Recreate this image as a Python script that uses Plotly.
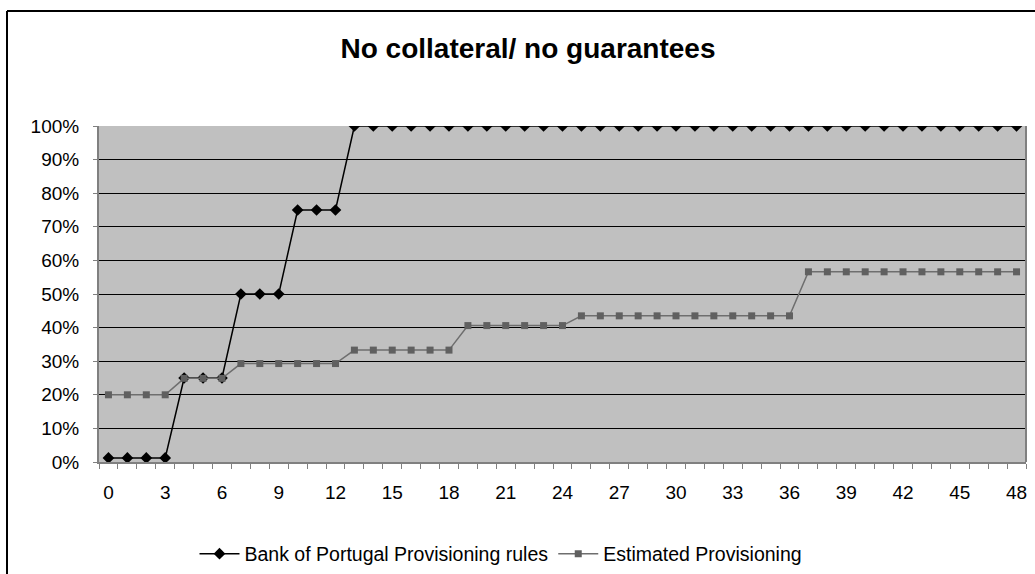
import plotly.graph_objects as go

# Months since default
months = list(range(0, 49))

# Provisioning rates (fraction of exposure)
bank_of_portugal = [0.012] * 4 + [0.25] * 3 + [0.50] * 3 + [0.75] * 3 + [1.00] * 36
estimated = ([0.20] * 4 + [0.249] * 3 + [0.293] * 6 + [0.333] * 6
             + [0.406] * 6 + [0.435] * 12 + [0.566] * 12)

x_tick_vals = list(range(0, 49, 3))
x_tick_text = [str(v) for v in x_tick_vals]

FONT = "Liberation Sans, Arial, sans-serif"

fig = go.Figure()
fig.add_trace(go.Scatter(
    x=months, y=bank_of_portugal, mode="lines+markers",
    name="Bank of Portugal Provisioning rules",
    line=dict(color="#000000", width=1.5),
    marker=dict(symbol="diamond", size=9, color="#000000"),
))
fig.add_trace(go.Scatter(
    x=months, y=estimated, mode="lines+markers",
    name="Estimated Provisioning",
    line=dict(color="#6e6e6e", width=1.5),
    marker=dict(symbol="square", size=7, color="#606060"),
))

fig.update_layout(
    width=1035, height=574,
    margin=dict(l=99, r=9, t=126, b=112, autoexpand=False),
    paper_bgcolor="white",
    plot_bgcolor="#c0c0c0",
    font=dict(family=FONT, size=19, color="#000000"),
    title=dict(text="<b>No collateral/ no guarantees</b>", x=528 / 1035, xanchor="center",
               y=1 - 48 / 574, yanchor="middle", font=dict(size=28, family=FONT)),
    showlegend=True,
    legend=dict(orientation="h", x=(501 - 99) / 927, xanchor="center",
                y=(462 - 554) / 336, yanchor="middle",
                font=dict(size=19.5, family=FONT), bgcolor="rgba(0,0,0,0)",
                itemwidth=40, tracegroupgap=0),
    xaxis=dict(
        range=[-0.5, 48.5], tickmode="array", tickvals=x_tick_vals, ticktext=x_tick_text,
        ticks="", showgrid=False, zeroline=False, automargin=False,
        showline=True, linecolor="#808080", linewidth=2,
        minor=dict(tick0=-0.5, dtick=1, ticks="outside", ticklen=5,
                   tickcolor="#808080", tickwidth=1, showgrid=False),
        ticklabelstandoff=12,
        tickfont=dict(size=19, family=FONT),
    ),
    yaxis=dict(
        range=[0, 1.0], dtick=0.1, tickformat=".0%",
        showgrid=True, gridcolor="#000000", gridwidth=1, zeroline=False, automargin=False,
        showline=True, linecolor="#808080", linewidth=2,
        ticks="outside", ticklen=4, tickcolor="#808080",
        ticklabelstandoff=10,
        tickfont=dict(size=19, family=FONT),
    ),
    shapes=[
        # Right edge of the plotting area
        dict(type="line", xref="paper", yref="paper", x0=1, x1=1, y0=0, y1=1,
             line=dict(color="#808080", width=2)),
        # Chart frame (left and top)
        dict(type="line", xref="paper", yref="paper",
             x0=(7 - 99) / 927, x1=(7 - 99) / 927, y0=(462 - 11) / 336, y1=(462 - 580) / 336,
             line=dict(color="#000000", width=2)),
        dict(type="line", xref="paper", yref="paper",
             x0=(7 - 99) / 927, x1=(1040 - 99) / 927, y0=(462 - 11) / 336, y1=(462 - 11) / 336,
             line=dict(color="#000000", width=2)),
    ],
)

fig.write_html("out.html")
